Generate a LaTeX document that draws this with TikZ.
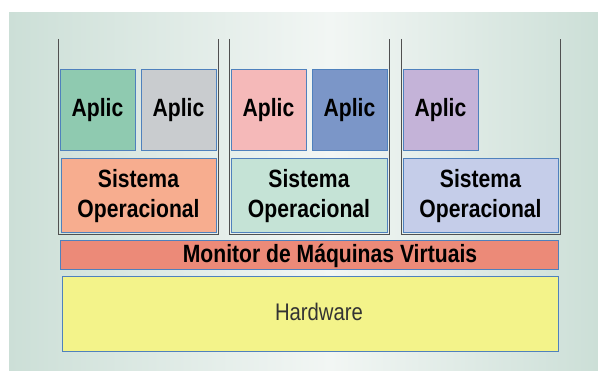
\documentclass[tikz,border=0pt]{standalone}
\usepackage{fontspec}
\setmainfont[FakeStretch=0.845]{Liberation Sans}
\usepackage{tikz}

\definecolor{bgside}{HTML}{CCDFD7}
\definecolor{bgmid}{HTML}{F2F6F4}
\definecolor{edge}{HTML}{4F81BD}
\definecolor{vmline}{HTML}{505050}
\definecolor{apgreen}{HTML}{8FCAB0}
\definecolor{apgray}{HTML}{C9CCCF}
\definecolor{appink}{HTML}{F5B9B9}
\definecolor{apblue}{HTML}{7B96C8}
\definecolor{aplilac}{HTML}{C4B3D8}
\definecolor{ossalmon}{HTML}{F7AD8F}
\definecolor{osmint}{HTML}{C5E3D6}
\definecolor{osblue}{HTML}{C5CDE9}
\definecolor{monred}{HTML}{EC8A78}
\definecolor{hwyellow}{HTML}{F3F38A}

\begin{document}
\begin{tikzpicture}[x=1pt,y=-1pt,
		box/.style={draw=edge, line width=1pt, inner sep=0pt, align=center,
			font=\fontsize{25}{30}\selectfont\bfseries},
		aplic/.style={box, minimum width=75pt, minimum height=81pt},
		sisop/.style={box, minimum height=74pt},
		lbl/.style={inner sep=0pt, font=\fontsize{25}{30}\selectfont\bfseries},
		vm/.style={draw=vmline, line width=1pt}]
			\useasboundingbox (0,0) rectangle (598,371);
			% fundo
			\shade[left color=bgside, right color=bgmid] (9,13) rectangle (330,371);
			\shade[left color=bgmid, right color=bgside] (330,13) rectangle (598,371);
			% maquinas virtuais
			\draw[vm] (58,39)--(58,235)--(218,235)--(218,39);
			\draw[vm] (229,39)--(229,235)--(389,235)--(389,39);
			\draw[vm] (401,39)--(401,235)--(560,235)--(560,39);
			% aplicacoes
			\node[aplic, fill=apgreen] (ap1) at (97.5,110.5) {Aplic};
			\node[aplic, fill=apgray] (ap2) at (178.5,110.5) {Aplic};
			\node[aplic, fill=appink] (ap3) at (268.5,110.5) {Aplic};
			\node[aplic, fill=apblue] (ap4) at (349.5,110.5) {Aplic};
			\node[aplic, fill=aplilac] (ap5) at (440.5,110.5) {Aplic};
			% sistemas operacionais
			\node[sisop, fill=ossalmon, minimum width=155pt] (so1) at (138.5,196) {Sistema\\Operacional};
			\node[sisop, fill=osmint, minimum width=156pt] (so2) at (309,196) {Sistema\\Operacional};
			\node[sisop, fill=osblue, minimum width=155pt] (so3) at (480.5,196) {Sistema\\Operacional};
			% monitor e hardware
			\node[box, fill=monred, minimum width=498pt, minimum height=29pt] (mvm) at (309,255.5) {};
			\node[lbl] (mvmtxt) at (330,255.5) {Monitor de Máquinas Virtuais};
			\node[box, fill=hwyellow, minimum width=496pt, minimum height=75pt] (hw) at (310,314.5) {};
			\node[lbl, font=\fontsize{24}{29}\selectfont, text=black!80] (hwtxt) at (319,312) {Hardware};
		\end{tikzpicture}
\end{document}
